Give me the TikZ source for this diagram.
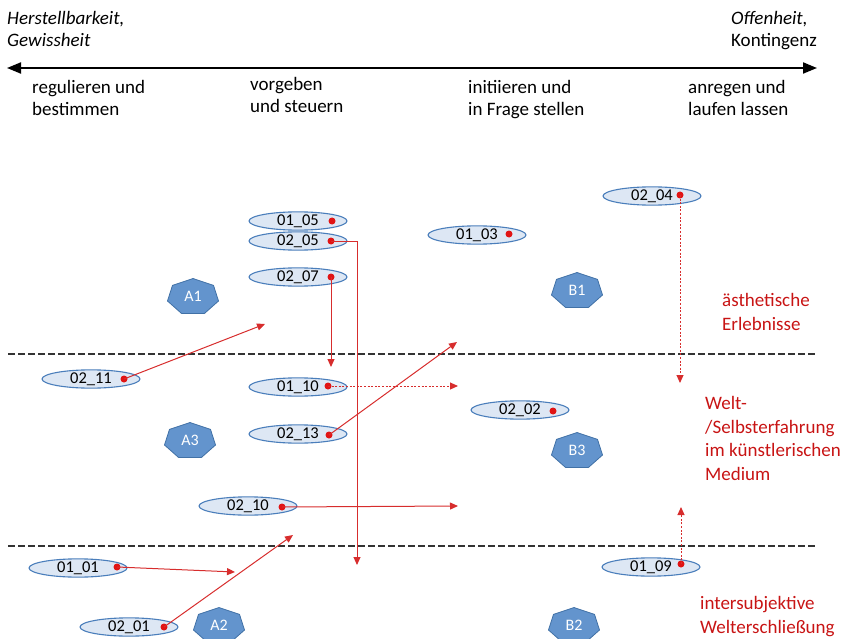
\documentclass[tikz,border=0pt]{standalone}
\usepackage{fontspec}
\setmainfont{Carlito}
\usetikzlibrary{arrows.meta,shapes.geometric}
\definecolor{ellfill}{RGB}{221,231,244}
\definecolor{ellline}{RGB}{74,126,187}
\definecolor{heptfill}{RGB}{99,148,205}
\definecolor{heptline}{RGB}{65,113,166}
\definecolor{redline}{RGB}{215,45,45}
\definecolor{reddot}{RGB}{225,20,20}
\definecolor{redtext}{RGB}{200,20,20}
\begin{document}
\begin{tikzpicture}[x=1pt,y=-1pt,
  ell/.style={ellipse, draw=ellline, fill=ellfill, line width=1.1pt, minimum width=98pt, minimum height=18pt, inner sep=0pt, font=\fontsize{16.5}{18}\selectfont},
  rdot/.style={circle, fill=reddot, minimum size=7pt, inner sep=0pt},
  hlabel/.style={text=white, font=\fontsize{16}{18}\selectfont, inner sep=0pt},
  conn/.style={draw=redline, line width=1pt, -{Triangle[length=8pt,width=7pt]}},
  dotconn/.style={conn, dash pattern=on 2pt off 1.6pt},
  sepline/.style={draw=black!80, line width=2.2pt, dash pattern=on 6.5pt off 3.5pt},
  axisline/.style={line width=2pt, {Triangle[length=14pt,width=11pt]}-{Triangle[length=14pt,width=11pt]}},
  toptext/.style={align=left, inner sep=0pt, anchor=base west, font=\fontsize{19}{22.5}\selectfont},
  redlabel/.style={align=left, inner sep=0pt, anchor=base west, text=redtext, font=\fontsize{19}{23.5}\selectfont},
  heptpic/.pic={\filldraw[fill=heptfill, draw=heptline, line width=0.8pt] (0,-17.5) -- (-20.5,-10.6) -- (-25.5,5) -- (-11.4,17.5) -- (11.4,17.5) -- (25.5,5) -- (20.5,-10.6) -- cycle;}
]
\useasboundingbox (0,0) rectangle (851,639);

% top texts (anchor = baseline of last line)
\node[toptext] (herst) at (7,47) {\itshape Herstellbarkeit,\\\itshape Gewissheit};
\node[toptext] (offen) at (731,47) {\itshape Offenheit,\\Kontingenz};
\node[toptext] (reg) at (32,116) {regulieren und\\bestimmen};
\node[toptext] (vor) at (250,113) {vorgeben\\und steuern};
\node[toptext] (ini) at (468,116) {initiieren und\\in Frage stellen};
\node[toptext] (anr) at (688,116) {anregen und\\laufen lassen};

% axis
\coordinate (axL) at (7,68);
\coordinate (axR) at (817,68);
\draw[axisline] (axL) -- (axR);

% separators
\coordinate (s1L) at (8,354);
\coordinate (s1R) at (816,354);
\coordinate (s2L) at (8,546);
\coordinate (s2R) at (816,546);
\draw[sepline] (s1L) -- (s1R);
\draw[sepline] (s2L) -- (s2R);

% red labels
\node[redlabel] (aesth) at (722,330) {ästhetische\\Erlebnisse};
\node[redlabel] (welt) at (705,480) {Welt-\\/Selbsterfahrung\\im künstlerischen\\Medium};
\node[redlabel] (inter) at (700,633) {intersubjektive\\Welterschließung};

% heptagons
\pic at (193,296) {heptpic}; \node[hlabel] (A1) at (193,296) {A1};
\pic at (577,290) {heptpic}; \node[hlabel] (B1) at (577,290) {B1};
\pic at (190,440) {heptpic}; \node[hlabel] (A3) at (190,440) {A3};
\pic at (577,450) {heptpic}; \node[hlabel] (B3) at (577,450) {B3};
\pic at (219,625) {heptpic}; \node[hlabel] (A2) at (219,625) {A2};
\pic at (574,625) {heptpic}; \node[hlabel] (B2) at (574,625) {B2};

% ellipses
\node[ell] (e0105) at (298,221) {01\_05};
\node[ell] (e0205) at (298,241) {02\_05};
\node[ell] (e0207) at (298,277) {02\_07};
\node[ell] (e0103) at (477,235) {01\_03};
\node[ell] (e0204) at (652,196) {02\_04};
\node[ell] (e0211) at (91,379) {02\_11};
\node[ell] (e0110) at (298,387) {01\_10};
\node[ell] (e0213) at (298,434) {02\_13};
\node[ell] (e0202) at (520,410) {02\_02};
\node[ell] (e0210) at (248,506) {02\_10};
\node[ell] (e0101) at (78,568) {01\_01};
\node[ell] (e0201) at (129,627) {02\_01};
\node[ell] (e0109) at (651,567) {01\_09};

% red dots
\node[rdot] (d0105) at (332,221) {};
\node[rdot] (d0205) at (331,241) {};
\node[rdot] (d0207) at (331,277) {};
\node[rdot] (d0103) at (509,234) {};
\node[rdot] (d0204) at (680,195) {};
\node[rdot] (d0211) at (124,379) {};
\node[rdot] (d0110) at (328,386) {};
\node[rdot] (d0213) at (329,435) {};
\node[rdot] (d0202) at (553,411) {};
\node[rdot] (d0210) at (282,507) {};
\node[rdot] (d0101) at (117,567) {};
\node[rdot] (d0201) at (164,627) {};
\node[rdot] (d0109) at (681,564) {};

% arrow end points
\coordinate (x1) at (357,565);
\coordinate (x2) at (331,367);
\coordinate (x3) at (265,324);
\coordinate (x4) at (458,386);
\coordinate (x5) at (457,342);
\coordinate (x6) at (458,506);
\coordinate (x7) at (235,572);
\coordinate (x8) at (293,535);
\coordinate (x9) at (680,383);
\coordinate (x10) at (681,507);

% connectors
\draw[conn] (d0205.center) -| (x1);
\draw[conn] (d0207.center) -- (x2);
\draw[conn] (d0211.center) -- (x3);
\draw[dotconn] (d0110.center) -- (x4);
\draw[conn] (d0213.center) -- (x5);
\draw[conn] (d0210.center) -- (x6);
\draw[conn] (d0101.center) -- (x7);
\draw[conn] (d0201.center) -- (x8);
\draw[dotconn] (d0204.center) -- (x9);
\draw[dotconn] (d0109.center) -- (x10);
\end{tikzpicture}
\end{document}
